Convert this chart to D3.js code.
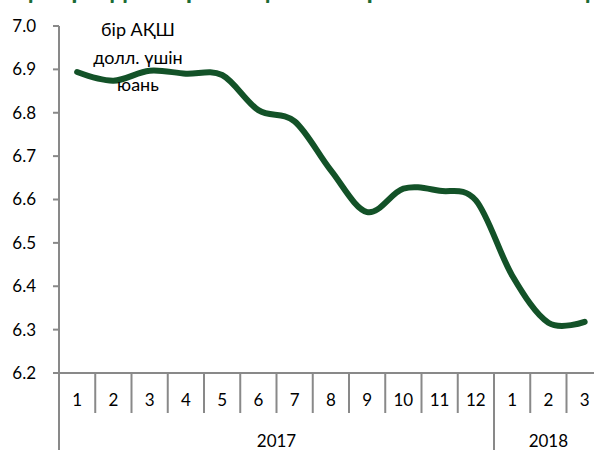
<!DOCTYPE html>
<html>
<head>
<meta charset="utf-8">
<script src="https://cdn.jsdelivr.net/npm/d3@7"></script>
<style>
body { margin:0; background:#fff; }
text { font-family: Lato, "Open Sans", sans-serif; fill:#000; }
</style>
</head>
<body>
<div id="gbody"></div>
<script>
// data
var months = ["1","2","3","4","5","6","7","8","9","10","11","12","1","2","3"];
var years = ["2017","2018"];
var monthsPerYear = [12, 3];
var rate = [6.894, 6.874, 6.897, 6.890, 6.887, 6.806, 6.780, 6.667, 6.571, 6.625, 6.620, 6.598, 6.425, 6.316, 6.318];
var yTicks = [6.2, 6.3, 6.4, 6.5, 6.6, 6.7, 6.8, 6.9, 7.0];
var unitLabel = ["бір АҚШ", "долл. үшін", "юань"];
var title = "Юаньның АҚШ долларына қатысты ресми бағамының серпіні";

var width = 594, height = 450;
var marginLeft = 59, marginTop = 26, axisY = 373;
var stepX = 36.25;
var axisColor = "#898989";

var svg = d3.select("#gbody").append("svg")
    .attr("width", width)
    .attr("height", height);

var keys = d3.range(months.length);
var x = d3.scaleBand()
    .domain(keys)
    .range([marginLeft, marginLeft + stepX * months.length]);

var y = d3.scaleLinear()
    .domain([6.2, 7.0])
    .range([axisY, marginTop]);

// title, cut at the top edge
svg.append("text")
    .attr("x", width / 2)
    .attr("y", -1)
    .attr("text-anchor", "middle")
    .style("font-size", "26px")
    .style("font-weight", "bold")
    .style("fill", "#1b6b35")
    .text(title);

// y axis
svg.append("line")
    .attr("x1", marginLeft).attr("x2", marginLeft)
    .attr("y1", y(7.0)).attr("y2", height)
    .attr("stroke", axisColor).attr("stroke-width", 2);

svg.selectAll(".ytick").data(yTicks).enter().append("line")
    .attr("x1", marginLeft - 6).attr("x2", marginLeft)
    .attr("y1", function(d){ return y(d); })
    .attr("y2", function(d){ return y(d); })
    .attr("stroke", axisColor).attr("stroke-width", 2);

svg.selectAll(".ylabel").data(yTicks).enter().append("text")
    .attr("x", 36)
    .attr("y", function(d){ return y(d); })
    .attr("dy", "0.35em")
    .attr("text-anchor", "end")
    .style("font-size", "17px")
    .text(function(d){ return d.toFixed(1); });

// x axis
svg.append("line")
    .attr("x1", marginLeft).attr("x2", width)
    .attr("y1", axisY).attr("y2", axisY)
    .attr("stroke", axisColor).attr("stroke-width", 2);

svg.selectAll(".mdiv").data(keys.slice(1)).enter().append("line")
    .attr("x1", function(d){ return x(d); })
    .attr("x2", function(d){ return x(d); })
    .attr("y1", axisY).attr("y2", 413)
    .attr("stroke", axisColor).attr("stroke-width", 2);

svg.selectAll(".mlabel").data(keys).enter().append("text")
    .attr("x", function(d){ return x(d) + x.bandwidth() / 2; })
    .attr("y", 406)
    .attr("text-anchor", "middle")
    .style("font-size", "17px")
    .text(function(d){ return months[d]; });

var start = 0;
years.forEach(function(yr, i){
    var x0 = x(start);
    var x1 = x(start + monthsPerYear[i] - 1) + x.bandwidth();
    if (i > 0) {
        svg.append("line")
            .attr("x1", x0).attr("x2", x0)
            .attr("y1", axisY).attr("y2", height)
            .attr("stroke", axisColor).attr("stroke-width", 2);
    }
    svg.append("text")
        .attr("x", (x0 + x1) / 2)
        .attr("y", 447)
        .attr("text-anchor", "middle")
        .style("font-size", "17px")
        .text(yr);
    start += monthsPerYear[i];
});

// line
var line = d3.line()
    .x(function(d, i){ return x(i) + x.bandwidth() / 2; })
    .y(function(d){ return y(d); })
    .curve(d3.curveCardinal.tension(0));

svg.append("path")
    .datum(rate)
    .attr("d", line)
    .attr("fill", "none")
    .attr("stroke", "#135228")
    .attr("stroke-width", 6)
    .attr("stroke-linecap", "round");

// unit label
svg.selectAll(".unit").data(unitLabel).enter().append("text")
    .attr("x", 138)
    .attr("y", function(d, i){ return 36 + i * 27.5; })
    .attr("text-anchor", "middle")
    .style("font-size", "18px")
    .text(function(d){ return d; });
</script>
</body>
</html>
